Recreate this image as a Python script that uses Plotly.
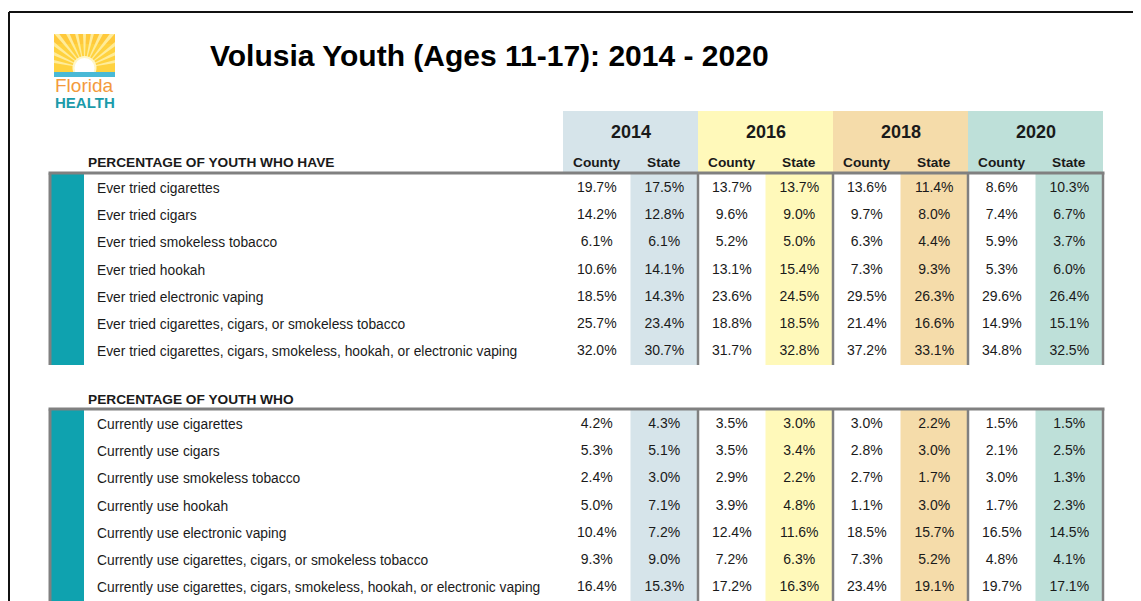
import math
import plotly.graph_objects as go

# ---------------- data ----------------
title = "Volusia Youth (Ages 11-17): 2014 - 2020"
years = ["2014", "2016", "2018", "2020"]
section_titles = ["PERCENTAGE OF YOUTH WHO HAVE", "PERCENTAGE OF YOUTH WHO"]
labels_have = [
    "Ever tried cigarettes",
    "Ever tried cigars",
    "Ever tried smokeless tobacco",
    "Ever tried hookah",
    "Ever tried electronic vaping",
    "Ever tried cigarettes, cigars, or smokeless tobacco",
    "Ever tried cigarettes, cigars, smokeless, hookah, or electronic vaping",
]
labels_current = [
    "Currently use cigarettes",
    "Currently use cigars",
    "Currently use smokeless tobacco",
    "Currently use hookah",
    "Currently use electronic vaping",
    "Currently use cigarettes, cigars, or smokeless tobacco",
    "Currently use cigarettes, cigars, smokeless, hookah, or electronic vaping",
]
# first 7 values = "ever tried", last 7 = "currently use"
county_2014 = [19.7, 14.2, 6.1, 10.6, 18.5, 25.7, 32.0, 4.2, 5.3, 2.4, 5.0, 10.4, 9.3, 16.4]
state_2014 = [17.5, 12.8, 6.1, 14.1, 14.3, 23.4, 30.7, 4.3, 5.1, 3.0, 7.1, 7.2, 9.0, 15.3]
county_2016 = [13.7, 9.6, 5.2, 13.1, 23.6, 18.8, 31.7, 3.5, 3.5, 2.9, 3.9, 12.4, 7.2, 17.2]
state_2016 = [13.7, 9.0, 5.0, 15.4, 24.5, 18.5, 32.8, 3.0, 3.4, 2.2, 4.8, 11.6, 6.3, 16.3]
county_2018 = [13.6, 9.7, 6.3, 7.3, 29.5, 21.4, 37.2, 3.0, 2.8, 2.7, 1.1, 18.5, 7.3, 23.4]
state_2018 = [11.4, 8.0, 4.4, 9.3, 26.3, 16.6, 33.1, 2.2, 3.0, 1.7, 3.0, 15.7, 5.2, 19.1]
county_2020 = [8.6, 7.4, 5.9, 5.3, 29.6, 14.9, 34.8, 1.5, 2.1, 3.0, 1.7, 16.5, 4.8, 19.7]
state_2020 = [10.3, 6.7, 3.7, 6.0, 26.4, 15.1, 32.5, 1.5, 2.5, 1.3, 2.3, 14.5, 4.1, 17.1]

county_vals = [county_2014, county_2016, county_2018, county_2020]
state_vals = [state_2014, state_2016, state_2018, state_2020]

# ---------------- style / layout ----------------
W, H = 1141, 601
OFF = 8  # page body margin
FONT = "Liberation Sans, Arial, Helvetica, sans-serif"
band_colors = ["#D6E4EA", "#FFF9BA", "#F5DCAA", "#BEE0D9"]
TEAL = "#0FA2AF"
GRAY = "#808080"
TXT = "#1a1a1a"

band_left = 563
band_w = 135
row_h = 27.3
sec_tops = [174.5, 410.5]
sec_hdr_y = [162, 399]
label_x = 94.5

shapes = []
annotations = []

# outer page border
shapes.append(dict(type="line", x0=9, x1=W + 20, y0=12, y1=12, line=dict(color="#111", width=2)))
shapes.append(dict(type="line", x0=9, x1=9, y0=12, y1=H + 20, line=dict(color="#111", width=2)))

# year header bands
for i, yr in enumerate(years):
    x0 = band_left + i * band_w
    shapes.append(dict(type="rect", x0=x0, x1=x0 + band_w, y0=111, y1=173,
                       fillcolor=band_colors[i], line=dict(width=0), layer="below"))
    annotations.append(dict(x=x0 + band_w / 2, y=132, text="<b>%s</b>" % yr, showarrow=False,
                            font=dict(family=FONT, size=18, color=TXT), xanchor="center", yanchor="middle"))
    annotations.append(dict(x=x0 + band_w * 0.25, y=162, text="<b>County</b>", showarrow=False,
                            font=dict(family=FONT, size=13.7, color=TXT), xanchor="center", yanchor="middle"))
    annotations.append(dict(x=x0 + band_w * 0.75, y=162, text="<b>State</b>", showarrow=False,
                            font=dict(family=FONT, size=13.7, color=TXT), xanchor="center", yanchor="middle"))

# sections
all_labels = [labels_have, labels_current]
for s in range(2):
    top = sec_tops[s]
    n = len(all_labels[s])
    bottom = H + 20 if s == 1 else 365
    # state shading
    for i in range(4):
        x0 = band_left + i * band_w + band_w / 2
        shapes.append(dict(type="rect", x0=x0, x1=x0 + band_w / 2, y0=top - 1, y1=bottom,
                           fillcolor=band_colors[i], line=dict(width=0), layer="below"))
    # teal bar
    shapes.append(dict(type="rect", x0=50, x1=84, y0=top - 1, y1=bottom,
                       fillcolor=TEAL, line=dict(width=0), layer="below"))
    # borders
    shapes.append(dict(type="line", x0=48.5, x1=band_left + 4 * band_w + 1.5, y0=top - 1.5, y1=top - 1.5,
                       line=dict(color=GRAY, width=3)))
    shapes.append(dict(type="line", x0=50, x1=50, y0=top - 1, y1=bottom, line=dict(color=GRAY, width=3)))
    for i in range(1, 5):
        xx = band_left + i * band_w
        shapes.append(dict(type="line", x0=xx, x1=xx, y0=top - 1, y1=bottom, line=dict(color=GRAY, width=2.5)))
    # section header
    annotations.append(dict(x=85.5, y=sec_hdr_y[s], text="<b>%s</b>" % section_titles[s], showarrow=False,
                            font=dict(family=FONT, size=13.7, color=TXT), xanchor="left", yanchor="middle"))
    # row labels
    for r, lab in enumerate(all_labels[s]):
        annotations.append(dict(x=label_x, y=top + (r + 0.5) * row_h, text=lab, showarrow=False,
                                font=dict(family=FONT, size=13.8, color=TXT), xanchor="left", yanchor="middle"))

# value traces
fig = go.Figure()
row_y = []
for s in range(2):
    for r in range(len(all_labels[s])):
        row_y.append(sec_tops[s] + (r + 0.5) * row_h)

for i in range(4):
    xc = band_left + i * band_w + band_w * 0.25
    xs = band_left + i * band_w + band_w * 0.75
    fig.add_trace(go.Scatter(x=[xc] * len(row_y), y=row_y, mode="text",
                             text=["%.1f%%" % v for v in county_vals[i]],
                             textfont=dict(family=FONT, size=14, color=TXT),
                             textposition="middle center", hoverinfo="skip", showlegend=False))
    fig.add_trace(go.Scatter(x=[xs] * len(row_y), y=row_y, mode="text",
                             text=["%.1f%%" % v for v in state_vals[i]],
                             textfont=dict(family=FONT, size=14, color=TXT),
                             textposition="middle center", hoverinfo="skip", showlegend=False))

# title
annotations.append(dict(x=208, y=55, text="<b>%s</b>" % title, showarrow=False,
                        font=dict(family=FONT, size=30, color="#000"), xanchor="left", yanchor="middle"))

# ---------------- logo ----------------
LX0, LX1, LY0, LY1 = 54, 115, 34, 73
shapes.append(dict(type="rect", x0=LX0, x1=LX1, y0=LY0, y1=LY1, fillcolor="#FFD23F", line=dict(width=0)))
shapes.append(dict(type="rect", x0=LX0, x1=LX1, y0=LY0, y1=44, fillcolor="#FFC93A", line=dict(width=0)))
cx, cy = 84.5, 68
for k in range(13):
    a = math.radians(12 + k * 13)
    pts = []
    for d in (-2.5, 2.5):
        aa = a + math.radians(d)
        dx, dy = math.cos(aa), -math.sin(aa)
        ts = [(LY0 - cy) / dy]
        if dx < 0:
            ts.append((LX0 - cx) / dx)
        elif dx > 0:
            ts.append((LX1 - cx) / dx)
        t = min(ts)
        pts.append((cx + dx * t, cy + dy * t))
    path = "M %.1f %.1f L %.1f %.1f L %.1f %.1f Z" % (cx, cy, pts[0][0], pts[0][1], pts[1][0], pts[1][1])
    shapes.append(dict(type="path", path=path, fillcolor="#FFEC9A", line=dict(width=0)))
shapes.append(dict(type="circle", x0=cx - 12, x1=cx + 12, y0=cy - 12, y1=cy + 12,
                   fillcolor="#FFF6C8", line=dict(width=0)))
shapes.append(dict(type="circle", x0=cx - 10, x1=cx + 10, y0=cy - 10, y1=cy + 10,
                   fillcolor="#FFFFFF", line=dict(width=0)))
shapes.append(dict(type="rect", x0=LX0, x1=LX1, y0=72, y1=77, fillcolor="#49B9D6", line=dict(width=0)))
shapes.append(dict(type="rect", x0=LX0, x1=LX1, y0=77, y1=112, fillcolor="#FFFFFF", line=dict(width=0)))
annotations.append(dict(x=84.5, y=85, text="Florida", showarrow=False,
                        font=dict(family=FONT, size=19, color="#F39A3C"),
                        xanchor="center", yanchor="middle"))
annotations.append(dict(x=84.5, y=102, text="<b>HEALTH</b>", showarrow=False,
                        font=dict(family=FONT, size=15, color="#1B9BAA"),
                        xanchor="center", yanchor="middle"))

fig.update_layout(
    width=W, height=H,
    margin=dict(l=0, r=0, t=0, b=0),
    paper_bgcolor="white", plot_bgcolor="white",
    xaxis=dict(range=[OFF, W + OFF], visible=False, fixedrange=True),
    yaxis=dict(range=[H + OFF, OFF], visible=False, fixedrange=True),
    shapes=shapes, annotations=annotations, showlegend=False,
)
fig.write_html("out.html")
